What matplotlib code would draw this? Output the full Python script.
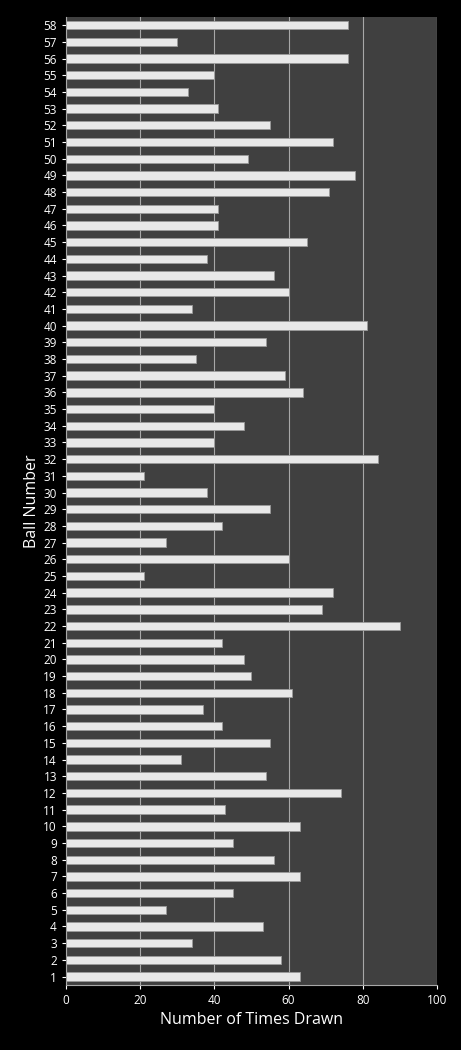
import matplotlib
matplotlib.use('Agg')
from matplotlib import pyplot as plt

balls = list(range(1, 59))
times_drawn = [63, 58, 34, 53, 27, 45, 63, 56, 45, 63,
               43, 74, 54, 31, 55, 42, 37, 61, 50, 48,
               42, 90, 69, 72, 21, 60, 27, 42, 55, 38,
               21, 84, 40, 48, 40, 64, 59, 35, 54, 81,
               34, 60, 56, 38, 65, 41, 41, 71, 78, 49,
               72, 55, 41, 33, 40, 76, 30, 76]

plt.rcParams['font.family'] = ['Open Sans', 'DejaVu Sans']

fig = plt.figure(figsize=(4.61, 10.5), dpi=100, facecolor='black')
ax = fig.add_axes([0.143, 0.062, 0.805, 0.922])
ax.set_facecolor('#404040')

ax.barh(balls, times_drawn, height=0.5, color='#e8e8e8', edgecolor='#9a9a9a',
        linewidth=0.6, zorder=3)

ax.set_xlim(0, 100)
ax.set_ylim(0.5, 58.5)
ax.set_xticks(range(0, 101, 20))
ax.set_yticks(balls)
ax.xaxis.grid(True, color='#a8a8a8', linewidth=0.8, zorder=0)
ax.tick_params(colors='white', labelsize=8.5, length=3)
for lbl in ax.get_xticklabels() + ax.get_yticklabels():
    lbl.set_color('white')
for side in ['top', 'right']:
    ax.spines[side].set_visible(False)
ax.spines['left'].set_color('#a8a8a8')
ax.spines['bottom'].set_color('#a8a8a8')

ax.set_xlabel('Number of Times Drawn', color='white', fontsize=11.5)
ax.set_ylabel('Ball Number', color='white', fontsize=11.5, labelpad=2)

fig.savefig('out.png', dpi=100, facecolor='black')
